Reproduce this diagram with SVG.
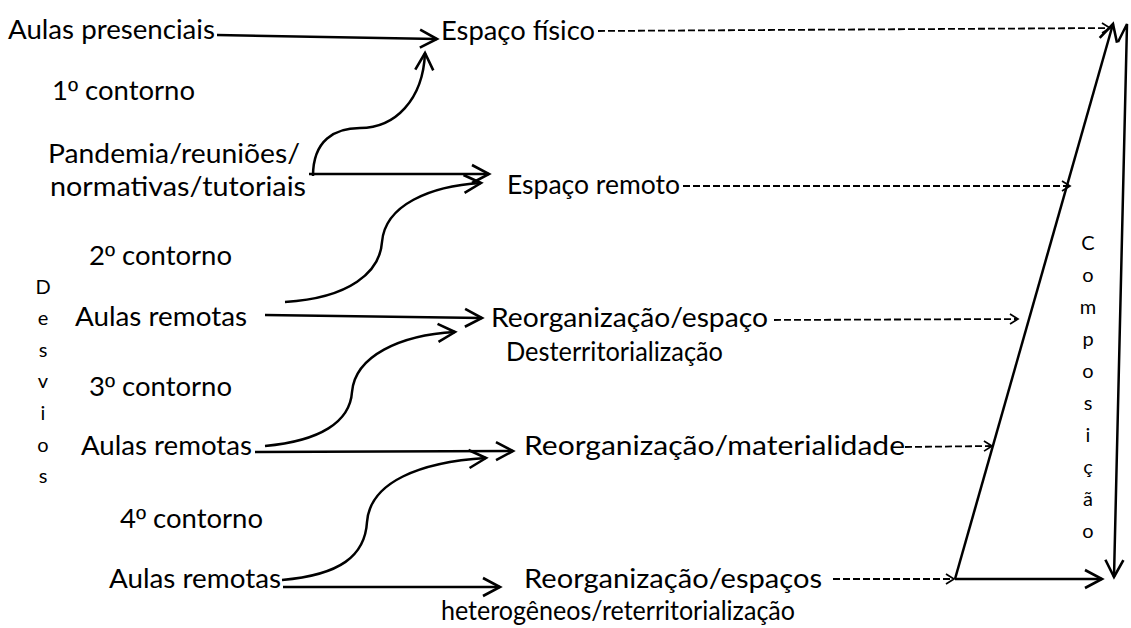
<svg xmlns="http://www.w3.org/2000/svg" width="1131" height="628" viewBox="0 0 1131 628">
<defs>
<style>
.t{font-family:Lato,"Open Sans",sans-serif;font-size:27.5px;fill:#000}
.o{font-family:"Liberation Sans",Arial,sans-serif}
.v{font-family:Lato,"Open Sans",sans-serif;font-size:20px;fill:#000;text-anchor:middle}
.a{fill:none;stroke:#000;stroke-width:2.5;marker-end:url(#big)}
.d{fill:none;stroke:#000;stroke-width:1.8;stroke-dasharray:7 3;marker-end:url(#small)}
</style>
<marker id="big" markerUnits="userSpaceOnUse" viewBox="-22 -13 26 26" refX="0" refY="0" markerWidth="26" markerHeight="26" orient="auto" overflow="visible">
<path d="M-17,-9 L0,0 L-17,9" fill="none" stroke="#000" stroke-width="2.6" stroke-linejoin="miter"/>
</marker>
<marker id="small" markerUnits="userSpaceOnUse" viewBox="-10 -8 12 16" refX="0" refY="0" markerWidth="12" markerHeight="16" orient="auto" overflow="visible">
<path d="M-8,-5 L0,0 L-8,5" fill="none" stroke="#000" stroke-width="1.7"/>
</marker>
</defs>
<g id="connectors">
<path class="a" d="M217,35 L437,39"/>
<path class="a" d="M313,176 C313,140 335,128 360,128 C395,128 423,100 425,53"/>
<path class="a" d="M309,174 L489,174"/>
<path class="a" d="M285,302 C350,298 380,272 382,242 C385,205 430,186 481,183"/>
<path class="a" d="M265,315 L482,318"/>
<path class="a" d="M265,446 C320,441 350,422 352,392 C355,356 400,335 455,332"/>
<path class="a" d="M255,452 L513,451"/>
<path class="a" d="M282,580 C340,575 365,556 367,522 C370,482 420,462 486,458"/>
<path class="a" d="M283,587 L500,587"/>
<path class="d" d="M598,31 L1110,28"/>
<path class="d" d="M683,186 L1070,186"/>
<path class="d" d="M774,320 L1018,319"/>
<path class="d" d="M905,447 L992,446"/>
<path class="d" d="M833,579 L954,579"/>
<path class="a" d="M955,579 L1102,579"/>
<path class="a" d="M955,579 L1113,24"/>
<path class="a" d="M1118,42 L1127,24 L1114,577"/>
</g>
<g id="n-aulas-presenciais"><text class="t" x="8" y="39" textLength="207" lengthAdjust="spacingAndGlyphs">Aulas presenciais</text></g>
<g id="n-espaco-fisico"><text class="t" x="441" y="40" textLength="154" lengthAdjust="spacingAndGlyphs">Espaço físico</text></g>
<g id="n-contorno1"><text class="t" x="52" y="100">1<tspan class="o">º</tspan> contorno</text></g>
<g id="n-pandemia"><text class="t" x="48" y="163" textLength="252" lengthAdjust="spacingAndGlyphs">Pandemia/reuniões/</text><text class="t" x="50" y="196" textLength="256" lengthAdjust="spacingAndGlyphs">normativas/tutoriais</text></g>
<g id="n-espaco-remoto"><text class="t" x="507" y="194" textLength="173" lengthAdjust="spacingAndGlyphs">Espaço remoto</text></g>
<g id="n-contorno2"><text class="t" x="89" y="265">2<tspan class="o">º</tspan> contorno</text></g>
<g id="n-aulas-remotas1"><text class="t" x="75" y="326" textLength="172" lengthAdjust="spacingAndGlyphs">Aulas remotas</text></g>
<g id="n-reorg-espaco"><text class="t" x="491" y="327" textLength="277" lengthAdjust="spacingAndGlyphs">Reorganização/espaço</text><text class="t" x="506" y="361" textLength="217" lengthAdjust="spacingAndGlyphs">Desterritorialização</text></g>
<g id="n-contorno3"><text class="t" x="89" y="396">3<tspan class="o">º</tspan> contorno</text></g>
<g id="n-aulas-remotas2"><text class="t" x="81" y="455" textLength="171" lengthAdjust="spacingAndGlyphs">Aulas remotas</text></g>
<g id="n-reorg-materialidade"><text class="t" x="524" y="455" textLength="381" lengthAdjust="spacingAndGlyphs">Reorganização/materialidade</text></g>
<g id="n-contorno4"><text class="t" x="120" y="528">4<tspan class="o">º</tspan> contorno</text></g>
<g id="n-aulas-remotas3"><text class="t" x="109" y="588" textLength="172" lengthAdjust="spacingAndGlyphs">Aulas remotas</text></g>
<g id="n-reorg-espacos"><text class="t" x="524" y="588" textLength="298" lengthAdjust="spacingAndGlyphs">Reorganização/espaços</text><text class="t" x="441" y="620" textLength="354" lengthAdjust="spacingAndGlyphs">heterogêneos/reterritorialização</text></g>
<g id="n-desvios">
<text class="v" x="43" y="294">D</text><text class="v" x="43" y="325">e</text><text class="v" x="43" y="357">s</text><text class="v" x="43" y="388">v</text><text class="v" x="43" y="420">i</text><text class="v" x="43" y="452">o</text><text class="v" x="43" y="483">s</text>
</g>
<g id="n-composicao">
<text class="v" x="1088" y="250">C</text><text class="v" x="1088" y="282">o</text><text class="v" x="1088" y="314">m</text><text class="v" x="1088" y="346">p</text><text class="v" x="1088" y="378">o</text><text class="v" x="1088" y="410">s</text><text class="v" x="1088" y="442">i</text><text class="v" x="1088" y="474">ç</text><text class="v" x="1088" y="506">ã</text><text class="v" x="1088" y="538">o</text>
</g>
</svg>
